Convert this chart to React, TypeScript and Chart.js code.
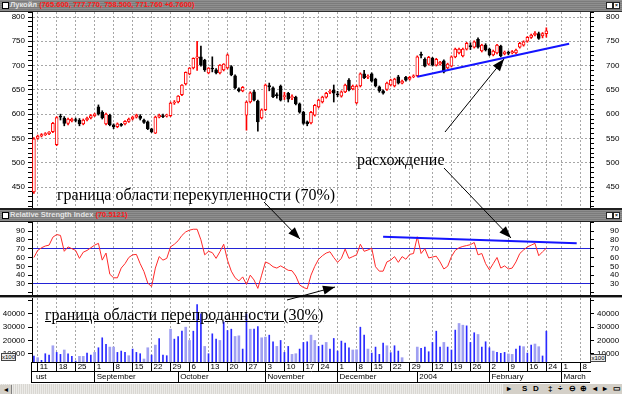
import React, { useEffect, useRef } from 'react';
import { Chart, registerables } from 'chart.js';

Chart.register(...registerables);

// ---------- data ----------
const days = [
  '2003-08-08',
  '2003-08-11', '2003-08-12', '2003-08-13', '2003-08-14', '2003-08-15',
  '2003-08-18', '2003-08-19', '2003-08-20', '2003-08-21', '2003-08-22',
  '2003-08-25', '2003-08-26', '2003-08-27', '2003-08-28', '2003-08-29',
  '2003-09-01', '2003-09-02', '2003-09-03', '2003-09-04', '2003-09-05',
  '2003-09-08', '2003-09-09', '2003-09-10', '2003-09-11', '2003-09-12',
  '2003-09-15', '2003-09-16', '2003-09-17', '2003-09-18', '2003-09-19',
  '2003-09-22', '2003-09-23', '2003-09-24', '2003-09-25', '2003-09-26',
  '2003-09-29', '2003-09-30', '2003-10-01', '2003-10-02', '2003-10-03',
  '2003-10-06', '2003-10-07', '2003-10-08', '2003-10-09', '2003-10-10',
  '2003-10-13', '2003-10-14', '2003-10-15', '2003-10-16', '2003-10-17',
  '2003-10-20', '2003-10-21', '2003-10-22', '2003-10-23', '2003-10-24',
  '2003-10-27', '2003-10-28', '2003-10-29', '2003-10-30', '2003-10-31',
  '2003-11-03', '2003-11-04', '2003-11-05', '2003-11-06', '2003-11-07',
  '2003-11-10', '2003-11-11', '2003-11-12', '2003-11-13', '2003-11-14',
  '2003-11-17', '2003-11-18', '2003-11-19', '2003-11-20',
  '2003-11-24', '2003-11-25', '2003-11-26', '2003-11-27', '2003-11-28',
  '2003-12-01', '2003-12-02', '2003-12-03', '2003-12-04', '2003-12-05',
  '2003-12-08', '2003-12-09', '2003-12-10', '2003-12-11',
  '2003-12-15', '2003-12-16', '2003-12-17', '2003-12-18', '2003-12-19',
  '2003-12-22', '2003-12-23', '2003-12-24', '2003-12-25', '2003-12-26',
  '2003-12-29', '2003-12-30',
  '2004-01-05', '2004-01-06', '2004-01-08', '2004-01-09',
  '2004-01-12', '2004-01-13', '2004-01-14', '2004-01-15', '2004-01-16',
  '2004-01-19', '2004-01-20', '2004-01-21', '2004-01-22', '2004-01-23',
  '2004-01-26', '2004-01-27', '2004-01-28', '2004-01-29', '2004-01-30',
  '2004-02-02', '2004-02-03', '2004-02-04', '2004-02-05', '2004-02-06',
  '2004-02-09', '2004-02-10', '2004-02-11', '2004-02-12', '2004-02-13',
  '2004-02-16', '2004-02-17', '2004-02-18', '2004-02-19', '2004-02-20',
  '2004-02-24', '2004-02-25', '2004-02-26', '2004-02-27',
  '2004-03-01', '2004-03-02', '2004-03-03', '2004-03-04', '2004-03-05',
  '2004-03-08', '2004-03-09', '2004-03-10',
];

const open = [
  440, 550, 555, 558, 560, 564, 537, 596, 592, 581,
  586, 589, 588, 580, 588, 592, 597, 615, 604, 580,
  598, 578, 574, 579, 580, 585, 590, 594, 596, 588,
  584, 570, 561, 594, 597, 596, 597, 623, 625, 640,
  662, 683, 695, 715, 718, 711, 685, 695, 691, 685,
  691, 695, 698, 679, 652, 648, 598, 625, 646, 627,
  592, 609, 659, 654, 640, 658, 636, 643, 634, 635,
  621, 604, 584, 582, 598, 615, 625, 635, 645, 650,
  642, 637, 646, 670, 652, 623, 658, 683, 676, 683,
  672, 656, 648, 651, 660, 658, 677, 664, 676, 672,
  677, 679, 723, 713, 703, 715, 701, 703, 710, 695,
  699, 718, 726, 720, 734, 741, 738, 754, 730, 742,
  734, 722, 726, 740, 724, 727, 726, 726, 738, 742,
  750, 758, 763, 766, 761, 765.6,
];
const high = [
  552, 557, 560, 562, 564, 583, 595, 600, 595, 592,
  592, 592, 591, 590, 594, 599, 602, 619, 607, 602,
  600, 580, 582, 581, 587, 592, 596, 600, 599, 590,
  586, 571, 596, 600, 600, 600, 625, 628, 638, 661,
  687, 696, 716, 750, 740, 713, 696, 718, 694, 702,
  704, 724, 700, 681, 654, 657, 627, 646, 649, 629,
  611, 662, 664, 656, 644, 660, 645, 645, 640, 637,
  623, 606, 586, 606, 620, 631, 637, 645, 650, 660,
  647, 648, 662, 673, 660, 660, 685, 690, 681, 685,
  674, 658, 650, 666, 672, 674, 680, 670, 678, 678,
  681, 720, 728, 716, 719, 717, 715, 709, 712, 705,
  720, 736, 736, 736, 748, 747, 751, 757, 744, 745,
  736, 732, 744, 742, 730, 730, 731, 734, 748, 751,
  760, 765, 770, 769, 768, 777.77,
];
const low = [
  437, 548, 553, 556, 558, 562, 535, 588, 576, 578,
  584, 584, 576, 578, 586, 590, 595, 598, 590, 578,
  576, 570, 572, 575, 578, 583, 588, 592, 588, 581,
  568, 562, 560, 592, 593, 594, 595, 620, 623, 638,
  660, 681, 693, 690, 699, 688, 683, 687, 683, 683,
  689, 693, 679, 652, 646, 646, 567, 623, 627, 565,
  590, 607, 648, 634, 633, 627, 630, 625, 630, 619,
  602, 579, 576, 580, 596, 613, 623, 633, 642, 625,
  636, 635, 644, 648, 650, 621, 656, 673, 673, 666,
  656, 645, 641, 649, 658, 656, 662, 662, 668, 670,
  675, 677, 716, 697, 701, 699, 699, 701, 685, 693,
  697, 716, 724, 718, 732, 733, 736, 736, 728, 730,
  720, 720, 724, 718, 722, 722, 724, 724, 736, 740,
  748, 756, 761, 754, 757, 758.5,
];
const close = [
  549, 555, 558, 560, 563, 581, 593, 594, 581, 590,
  590, 587, 580, 588, 592, 597, 600, 600, 592, 600,
  578, 574, 580, 577, 585, 590, 594, 598, 591, 583,
  570, 564, 594, 598, 595, 598, 623, 625, 637, 660,
  686, 695, 715, 718, 701, 691, 695, 693, 685, 701,
  703, 722, 681, 654, 648, 655, 625, 644, 629, 584,
  609, 660, 656, 636, 638, 629, 638, 631, 636, 621,
  604, 581, 580, 604, 618, 629, 635, 643, 647, 643,
  640, 646, 660, 650, 658, 658, 683, 675, 678, 668,
  658, 648, 643, 664, 670, 672, 664, 668, 670, 676,
  679, 718, 721, 699, 717, 701, 713, 707, 687, 703,
  718, 734, 734, 734, 746, 739, 749, 738, 742, 732,
  722, 730, 742, 720, 728, 725, 729, 732, 746, 749,
  758, 763, 767, 756, 766, 771.76,
];

const rsi = [
  60, 68, 71, 73, 74, 83, 86, 85, 67, 72,
  70, 68, 59, 66, 68, 71, 74, 76, 57, 65,
  41, 37, 37, 48, 53, 60, 63, 63.5, 53, 44,
  31, 27, 48, 61, 57, 59, 72, 75, 79, 85,
  89, 91, 92, 92, 80, 63, 67, 65.5, 59, 66.5,
  75, 57, 44.5, 37, 33.5, 38, 29.5, 40, 34.5, 25,
  40, 55, 53, 49.5, 48, 50.5, 48, 45.5, 45, 39,
  29, 26, 24.5, 40, 50, 58, 62, 65, 66.5, 60,
  54.5, 59, 69.5, 59, 61, 63, 75, 67, 68.5, 70.5,
  49.5, 44.5, 44.5, 55, 57, 61, 54.5, 61, 58, 63.5,
  64.5, 83.5, 64.5, 70, 59.5, 60.5, 61.5, 55, 47, 50,
  61, 68, 71, 72.5, 73.5, 74.5, 77, 63, 64.5, 53,
  46, 53, 60, 48, 50.5, 47, 48, 55, 64.5, 68.5,
  72, 74, 76, 62, 66.5, 70.5,
];

const volume = [
  8300, 7000, 5000, 10000, 9000, 16000, 11000, 9500, 12800, 10000,
  8000, 4500, 8000, 8000, 10500, 9000, 11000, 14500, 22000, 17000,
  15000, 15000, 11000, 12000, 11000, 8500, 13500, 11000, 10000, 6000,
  14500, 9000, 16500, 21500, 9000, 8500, 28500, 21000, 23000, 27000,
  30000, 20000, 27000, 47000, 40000, 15500, 10000, 25000, 21000, 20000,
  34000, 27500, 28500, 23000, 23500, 13500, 40000, 28500, 28500, 30500,
  22000, 22500, 24000, 19000, 15500, 20000, 11000, 15500, 9500, 10000,
  13500, 18500, 19000, 24000, 20000, 15500, 16500, 18500, 13500, 21500,
  12000, 19500, 18000, 14500, 12800, 13000, 30000, 24000, 13500, 10500,
  15000, 9500, 18000, 16000, 10800, 16000, 12000, 7000, 3000, 3000,
  3000, 15000, 14000, 15000, 11500, 18500, 27000, 15000, 18500, 15000,
  12800, 27800, 32800, 31500, 31000, 18500, 25800, 24500, 15000, 19000,
  14500, 12000, 11000, 10300, 11000, 9800, 9500, 13500, 15800, 15300,
  10500, 16500, 17300, 15300, 8300, 27000,
];
// 1 = light (wide) bar, 0 = dark (thin) bar
const volumeTone = [
  0, 1, 0, 0, 0, 1, 0, 0, 1, 0,
  0, 0, 1, 1, 0, 0, 1, 0, 0, 0,
  1, 1, 0, 0, 0, 1, 0, 0, 0, 1,
  1, 0, 1, 0, 0, 0, 1, 0, 0, 0,
  1, 1, 0, 0, 0, 1, 0, 0, 0, 1,
  0, 0, 0, 1, 1, 0, 0, 1, 0, 0,
  1, 1, 0, 0, 1, 0, 0, 0, 1, 1,
  0, 0, 0, 1, 1, 0, 0, 1, 0, 0,
  0, 0, 0, 0, 1, 1, 0, 0, 1, 0,
  0, 0, 0, 1, 0, 0, 0, 1, 0, 0,
  0, 1, 0, 0, 0, 0, 0, 0, 1, 0,
  0, 0, 1, 1, 0, 0, 0, 1, 0, 0,
  0, 1, 0, 0, 0, 1, 1, 0, 0, 1,
  0, 0, 1, 1, 0, 0,
];

const priceTrend = [
  { day: '2004-01-05', value: 677 },
  { day: '2004-03-03', value: 745 },
];
const rsiTrend = [
  { day: '2003-12-18', value: 83.5 },
  { day: '2004-03-05', value: 76 },
];

const volumeTicks = [10000, 20000, 30000, 40000, 50000];

const weekTicks = [
  '2003-08-11', '2003-08-18', '2003-08-25', '2003-09-01', '2003-09-08', '2003-09-15',
  '2003-09-22', '2003-09-29', '2003-10-06', '2003-10-13', '2003-10-20', '2003-10-27',
  '2003-11-03', '2003-11-10', '2003-11-17', '2003-11-24', '2003-12-01', '2003-12-08',
  '2003-12-15', '2003-12-22', '2003-12-29', '2004-01-12', '2004-01-19', '2004-01-26',
  '2004-02-02', '2004-02-09', '2004-02-16', '2004-02-24', '2004-03-01', '2004-03-08',
];
const monthTicks = ['2003-08-08', '2003-09-01', '2003-10-01', '2003-11-03', '2003-12-01', '2004-01-05', '2004-02-02', '2004-03-01'];
const monthLabels = ['ust', 'September', 'October', 'November', 'December', '2004', 'February', 'March'];

const priceTitle = 'Лукойл';
const priceValues = '(765.600, 777.770, 758.500, 771.760 +6.7600)';
const rsiTitle = 'Relative Strength Index';
const rsiValue = '(70.5121)';

// ---------- styling helpers ----------
const GRID = '#a6a6a6';
const CLEAR = 'rgba(0,0,0,0)';
const SANS = '"Liberation Sans", Arial, sans-serif';
const SERIF = '"Liberation Serif", "Times New Roman", serif';
const AXF = { family: SANS, size: 8, lineHeight: 1 };

const weekSet = new Set(weekTicks);
const monthMap = new Map(monthTicks.map((d, i) => [d, monthLabels[i]]));

const fitY = (s: any) => { s.width = 32; s.paddingTop = 0; s.paddingBottom = 0; };
const fitX = (h: number) => (s: any) => { s.height = h; s.paddingLeft = 0; s.paddingRight = 0; };
const weekGrid = (c: any) => (weekSet.has(days[c.index]) ? GRID : CLEAR);

function hiddenX(): any {
  return {
    type: 'category',
    offset: true,
    grid: { offset: false, color: weekGrid, lineWidth: 1, drawTicks: false },
    border: { display: false, dash: [2, 2] },
    ticks: { display: false, autoSkip: false },
    afterFit: fitX(0),
  };
}

function yPair(min: number, max: number, step: number, label: (v: number) => string, gridColor: any, leftPad: number, rightPad: number, dash: number[], fixedTicks?: number[]): any {
  const t = { stepSize: step, includeBounds: false, autoSkip: false, maxTicksLimit: 1000, color: '#000', font: AXF, callback: (v: any) => label(Number(v)) };
  const abt = fixedTicks ? (s: any) => { s.ticks = fixedTicks.map((v) => ({ value: v })); } : undefined;
  return {
    y: {
      position: 'left', min, max,
      ticks: { ...t, padding: leftPad },
      grid: { color: gridColor, lineWidth: 1, tickColor: '#000', tickLength: 4, tickBorderDash: [] },
      border: { display: true, color: '#000', dash },
      afterBuildTicks: abt,
      afterFit: fitY,
    },
    y2: {
      position: 'right', min, max,
      ticks: { ...t, padding: rightPad, crossAlign: 'near' },
      grid: { drawOnChartArea: false, color: CLEAR, tickColor: '#000', tickLength: 4, tickBorderDash: [] },
      border: { display: true, color: '#000' },
      afterBuildTicks: abt,
      afterFit: fitY,
    },
  };
}

function baseOpts(): any {
  return {
    animation: false,
    responsive: false,
    maintainAspectRatio: false,
    events: [],
    layout: { padding: 0, autoPadding: false },
    plugins: { legend: { display: false }, tooltip: { enabled: false } },
  };
}

// ---------- overlay pieces ----------
const barBg = 'repeating-linear-gradient(180deg, #8f8f8f 0px, #8f8f8f 1px, #7b7b7b 1px, #7b7b7b 2px)';

function TitleBar({ top, title, value }: { top: number; title: string; value: string }) {
  return (
    <div style={{ position: 'absolute', left: 0, top, width: 622, height: 11, background: barBg, overflow: 'hidden' }}>
      <div style={{ position: 'absolute', left: 2, top: 2, width: 5, height: 5, background: '#fff', border: '1px solid #000' }} />
      <div style={{ position: 'absolute', left: 10, top: 0, height: 11, lineHeight: '11px', font: `700 7.5px ${SANS}`, whiteSpace: 'nowrap' }}>
        <span style={{ color: '#e4e4e4' }}>{title}</span>
        <span style={{ color: '#ff1a1a' }}> {value}</span>
      </div>
      <div style={{ position: 'absolute', left: 606, top: 2, width: 5, height: 5, background: '#fff', border: '1px solid #222' }} />
      <div style={{ position: 'absolute', left: 613, top: 2, width: 5, height: 5, background: '#fff', border: '1px solid #222', font: `700 5px ${SANS}`, lineHeight: '5px', textAlign: 'center', color: '#000' }}>×</div>
    </div>
  );
}

const arrows = [
  { from: [264, 202], to: [300, 239] },
  { from: [445, 132], to: [504, 59] },
  { from: [444, 168], to: [511, 238] },
  { from: [287, 300], to: [335, 287] },
];

function arrowHead(from: number[], to: number[], len = 12, half = 4.5) {
  const dx = to[0] - from[0];
  const dy = to[1] - from[1];
  const d = Math.hypot(dx, dy);
  const ux = dx / d, uy = dy / d;
  const bx = to[0] - ux * len, by = to[1] - uy * len;
  return `${to[0]},${to[1]} ${bx - uy * half},${by + ux * half} ${bx + uy * half},${by - ux * half}`;
}

export default function App() {
  const priceRef = useRef<HTMLCanvasElement>(null);
  const rsiRef = useRef<HTMLCanvasElement>(null);
  const volRef = useRef<HTMLCanvasElement>(null);

  useEffect(() => {
    document.body.style.margin = '0';
    const charts: Chart[] = [];
    const up = (i: number) => close[i] >= open[i];

    charts.push(new Chart(priceRef.current as HTMLCanvasElement, {
      type: 'bar',
      data: {
        labels: days,
        datasets: [
          {
            type: 'line',
            data: priceTrend.map((p) => ({ x: p.day, y: p.value })) as any,
            borderColor: '#1414ff', borderWidth: 2, pointRadius: 0, order: 1,
          } as any,
          {
            data: open.map((o, i) => [o, close[i]]) as any,
            backgroundColor: open.map((_, i) => (up(i) ? '#ffffff' : '#000000')),
            borderColor: open.map((_, i) => (up(i) ? '#ff0000' : '#000000')),
            borderWidth: 1, borderSkipped: false, barThickness: 3, grouped: false, minBarLength: 1, order: 2,
          } as any,
          {
            data: low.map((l, i) => [l, high[i]]) as any,
            backgroundColor: open.map((_, i) => (up(i) ? '#ff0000' : '#000000')),
            barThickness: 1, grouped: false, order: 3,
          } as any,
        ],
      },
      options: {
        ...baseOpts(),
        scales: {
          x: hiddenX(),
          ...yPair(406.8, 810.3, 10, (v) => (v % 50 === 0 ? String(v) : ''), (c: any) => (c.tick.value % 50 === 0 ? GRID : CLEAR), 3, 12, [2, 2]),
        },
      },
    } as any));

    charts.push(new Chart(rsiRef.current as HTMLCanvasElement, {
      type: 'line',
      data: {
        labels: days,
        datasets: [
          {
            data: rsiTrend.map((p) => ({ x: p.day, y: p.value })) as any,
            borderColor: '#1414ff', borderWidth: 2, pointRadius: 0,
          } as any,
          {
            data: rsi,
            borderColor: '#ff2a2a', borderWidth: 1, pointRadius: 0, tension: 0,
          } as any,
        ],
      },
      options: {
        ...baseOpts(),
        scales: {
          x: hiddenX(),
          ...yPair(17.5, 100.2, 10, (v) => (v >= 30 && v <= 90 ? String(v) : ''), (c: any) => (c.tick.value === 70 || c.tick.value === 30 ? '#2323d6' : CLEAR), 3, 16, []),
        },
      },
    } as any));

    charts.push(new Chart(volRef.current as HTMLCanvasElement, {
      type: 'bar',
      data: {
        labels: days,
        datasets: [
          {
            data: volume.map((v, i) => (volumeTone[i] ? null : v)),
            backgroundColor: '#2a2aff', barThickness: 1, grouped: false,
          } as any,
          {
            data: volume.map((v, i) => (volumeTone[i] ? v : null)),
            backgroundColor: '#a0a0f2', barThickness: 2, grouped: false,
          } as any,
        ],
      },
      options: {
        ...baseOpts(),
        scales: {
          x: {
            type: 'category', offset: true, position: 'bottom', weight: 0,
            grid: {
              offset: false, color: weekGrid, lineWidth: 1, drawTicks: true, tickLength: 9, tickWidth: 1,
              tickColor: (c: any) => (weekSet.has(days[c.index]) ? '#000' : CLEAR), tickBorderDash: [],
            },
            border: { display: true, color: '#000', dash: [2, 2] },
            ticks: {
              autoSkip: false, maxRotation: 0, minRotation: 0, align: 'start', labelOffset: 2, padding: -8.5,
              color: '#000', font: AXF,
              callback: (_v: any, i: number) => (weekSet.has(days[i]) ? String(Number(days[i].slice(8))) : ''),
            },
            afterFit: fitX(9),
          },
          xm: {
            type: 'category', offset: true, position: 'bottom', weight: 1,
            grid: {
              offset: false, drawOnChartArea: false, color: CLEAR, drawTicks: true, tickLength: 11, tickWidth: 1,
              tickColor: (c: any) => (c.index > 0 && monthMap.has(days[c.index]) ? '#000' : CLEAR), tickBorderDash: [],
            },
            border: { display: true, color: '#000' },
            ticks: {
              autoSkip: false, maxRotation: 0, minRotation: 0, align: 'start', labelOffset: 2, padding: -9,
              color: '#000', font: AXF,
              callback: (_v: any, i: number) => monthMap.get(days[i]) ?? '',
            },
            afterFit: fitX(11),
          },
          ...yPair(3750, 52000, 10000, (v) => (v <= 40000 ? String(v) : ''), () => CLEAR, 3, 3, [], volumeTicks),
        },
      },
    } as any));

    return () => charts.forEach((c) => c.destroy());
  }, []);

  const serifText: React.CSSProperties = { position: 'absolute', font: `16px ${SERIF}`, lineHeight: '16px', color: '#000', whiteSpace: 'nowrap' };

  return (
    <div style={{ position: 'absolute', left: 0, top: 0, width: 622, height: 394, background: '#fff', overflow: 'hidden' }}>
      <TitleBar top={0} title={priceTitle} value={priceValues} />
      <div style={{ position: 'absolute', left: 0, top: 11, width: 622, height: 1, background: '#303030' }} />
      <canvas ref={priceRef} width={622} height={196} style={{ position: 'absolute', left: 0, top: 12, width: 622, height: 196 }} />
      <div style={{ position: 'absolute', left: 0, top: 208, width: 622, height: 2, background: '#202020' }} />
      <TitleBar top={210} title={rsiTitle} value={rsiValue} />
      <div style={{ position: 'absolute', left: 0, top: 221, width: 622, height: 1, background: '#202020' }} />
      <canvas ref={rsiRef} width={622} height={73} style={{ position: 'absolute', left: 0, top: 222, width: 622, height: 73 }} />
      <div style={{ position: 'absolute', left: 0, top: 295, width: 622, height: 2, background: '#101010' }} />
      <div style={{ position: 'absolute', left: 0, top: 297, width: 622, height: 1, background: '#9a9a9a' }} />
      <canvas ref={volRef} width={622} height={84} style={{ position: 'absolute', left: 0, top: 298, width: 622, height: 84 }} />

      {/* x100 multiplier boxes */}
      <div style={{ position: 'absolute', left: 1, top: 353, width: 13, height: 6, border: '1px solid #444', background: '#ececec', font: `6px ${SANS}`, lineHeight: '6px', color: '#000', textAlign: 'center' }}>x100</div>
      <div style={{ position: 'absolute', left: 590, top: 354, width: 14, height: 6, border: '1px solid #444', background: '#ececec', font: `6px ${SANS}`, lineHeight: '6px', color: '#000', textAlign: 'center' }}>x100</div>

      {/* axis row frame */}
      <div style={{ position: 'absolute', left: 31, top: 362, width: 1, height: 21, background: '#000' }} />
      <div style={{ position: 'absolute', left: 31, top: 382, width: 559, height: 1, background: '#000' }} />

      {/* scrollbar + toolbar */}
      <div style={{ position: 'absolute', left: 0, top: 384, width: 622, height: 10, background: 'repeating-linear-gradient(90deg, #ecebe8 0px, #ecebe8 1px, #d9d7d2 1px, #d9d7d2 2px)' }} />
      <div style={{ position: 'absolute', left: 0, top: 385, width: 11, height: 9, background: '#d4d0c8', borderRight: '1px solid #808080', font: `8px ${SANS}`, lineHeight: '9px', textAlign: 'center', color: '#000' }}>◂</div>
      <div style={{ position: 'absolute', left: 503, top: 384, width: 119, height: 10, background: '#d4d0c8', font: `700 8px ${SANS}`, lineHeight: '10px', color: '#000', whiteSpace: 'nowrap' }}>
        <span style={{ position: 'absolute', left: 4 }}>▸</span>
        <span style={{ position: 'absolute', left: 19 }}>S</span>
        <span style={{ position: 'absolute', left: 30 }}>D</span>
        <span style={{ position: 'absolute', left: 45 }}>‡</span>
        <span style={{ position: 'absolute', left: 55 }}>÷</span>
        <span style={{ position: 'absolute', left: 66 }}>⊖</span>
        <span style={{ position: 'absolute', left: 77 }}>⊕</span>
        <span style={{ position: 'absolute', left: 90 }}>◂</span>
        <span style={{ position: 'absolute', left: 100 }}>▸</span>
        <span style={{ position: 'absolute', left: 110 }}>▭</span>
      </div>

      {/* annotations */}
      <div style={{ ...serifText, left: 57, top: 187 }}>граница области перекупленности (70%)</div>
      <div style={{ ...serifText, left: 357, top: 152 }}>расхождение</div>
      <div style={{ ...serifText, left: 45, top: 307, textDecoration: 'underline' }}>граница области перепроданности (30%)</div>
      <svg width={622} height={394} style={{ position: 'absolute', left: 0, top: 0, pointerEvents: 'none' }}>
        {arrows.map((a, i) => (
          <g key={i}>
            <line x1={a.from[0]} y1={a.from[1]} x2={a.to[0]} y2={a.to[1]} stroke="#000" strokeWidth={1} />
            <polygon points={arrowHead(a.from, a.to)} fill="#000" />
          </g>
        ))}
      </svg>
    </div>
  );
}
